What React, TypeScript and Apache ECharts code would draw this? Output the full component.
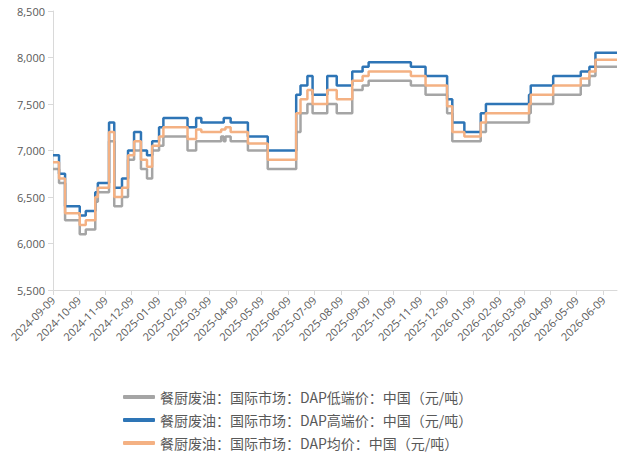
import React, { useEffect, useRef } from "react";
import * as echarts from "echarts";

const seriesNames = [
  "餐厨废油：国际市场：DAP低端价：中国（元/吨）",
  "餐厨废油：国际市场：DAP高端价：中国（元/吨）",
  "餐厨废油：国际市场：DAP均价：中国（元/吨）",
];

const dates = [
  "2024-09-09", "2024-09-16", "2024-09-23", "2024-10-10", "2024-10-17", "2024-10-28",
  "2024-10-31", "2024-11-13", "2024-11-19", "2024-11-28", "2024-12-05", "2024-12-12",
  "2024-12-20", "2024-12-27", "2025-01-02", "2025-01-10", "2025-01-15", "2025-02-12",
  "2025-02-22", "2025-02-28", "2025-03-23", "2025-03-26", "2025-03-28", "2025-04-03",
  "2025-04-23", "2025-05-16", "2025-06-18", "2025-06-23", "2025-07-01", "2025-07-07",
  "2025-07-24", "2025-08-04", "2025-08-22", "2025-09-03", "2025-09-10", "2025-10-29",
  "2025-11-15", "2025-12-10", "2025-12-16", "2025-12-30", "2026-01-18", "2026-01-24",
  "2026-03-15", "2026-03-17", "2026-04-12", "2026-05-14", "2026-05-24", "2026-05-31",
  "2026-06-18", "2026-06-25",
];

const lowValues = [
  6800, 6650, 6250, 6100, 6150, 6450,
  6550, 7100, 6400, 6500, 6900, 7000,
  6800, 6700, 7000, 7050, 7150, 7000,
  7100, 7100, 7150, 7100, 7150, 7100,
  7000, 6800, 7200, 7400, 7500, 7400,
  7500, 7400, 7650, 7700, 7750, 7700,
  7600, 7400, 7100, 7100, 7200, 7300,
  7400, 7500, 7600, 7700, 7800, 7900,
  7900, null,
];

const highValues = [
  6950, 6750, 6400, 6300, 6350, 6550,
  6650, 7300, 6600, 6700, 7000, 7200,
  7000, 6950, 7100, 7250, 7350, 7250,
  7350, 7300, 7300, 7350, 7350, 7300,
  7150, 7000, 7600, 7700, 7800, 7600,
  7800, 7700, 7850, 7900, 7950, 7900,
  7800, 7550, 7300, 7200, 7400, 7500,
  7600, 7700, 7800, 7850, 7900, 8050,
  8050, null,
];

const avgValues = [
  6875, 6700, 6325, 6200, 6250, 6500,
  6600, 7200, 6500, 6600, 6950, 7100,
  6900, 6825, 7050, 7150, 7250, 7125,
  7225, 7200, 7225, 7225, 7250, 7200,
  7075, 6900, 7400, 7550, 7650, 7500,
  7650, 7550, 7750, 7800, 7850, 7800,
  7700, 7475, 7200, 7150, 7300, 7400,
  7500, 7600, 7700, 7775, 7850, 7975,
  7975, 7975,
];

const xTickLabels = [
  "2024-09-09", "2024-10-09", "2024-11-09", "2024-12-09", "2025-01-09", "2025-02-09",
  "2025-03-09", "2025-04-09", "2025-05-09", "2025-06-09", "2025-07-09", "2025-08-09",
  "2025-09-09", "2025-10-09", "2025-11-09", "2025-12-09", "2026-01-09", "2026-02-09",
  "2026-03-09", "2026-04-09", "2026-05-09", "2026-06-09",
];

const xMin = "2024-09-09";
const xMax = "2026-06-25";
const colors = ["#A5A5A5", "#2E75B6", "#F4B183"];

const DAY = 86400000;
function toUtc(s: string) {
  const [y, m, d] = s.split("-").map(Number);
  return Date.UTC(y, m - 1, d);
}
const base = toUtc(xMin);
function toDay(s: string) {
  return Math.round((toUtc(s) - base) / DAY);
}
function pad(n: number) {
  return n < 10 ? "0" + n : "" + n;
}
function dayLabel(v: number) {
  const d = new Date(base + Math.round(v) * DAY);
  return d.getUTCFullYear() + "-" + pad(d.getUTCMonth() + 1) + "-" + pad(d.getUTCDate());
}

export default function App() {
  const ref = useRef<HTMLDivElement>(null);
  useEffect(() => {
    if (!ref.current) return;
    const chart = echarts.init(ref.current, null, { renderer: "svg" });
    const allValues = [lowValues, highValues, avgValues];
    const tickDays = xTickLabels.map(toDay);
    chart.setOption({
      animation: false,
      color: colors,
      textStyle: { fontFamily: "'Open Sans', 'Noto Sans CJK SC', sans-serif" },
      grid: { left: 53, right: 7, top: 11, bottom: 166, containLabel: false },
      legend: {
        orient: "vertical",
        left: 118,
        top: 385,
        itemWidth: 32,
        itemHeight: 4,
        itemGap: 9,
        icon: "roundRect",
        textStyle: {
          color: "#595959",
          fontSize: 14,
          fontFamily: "'Noto Sans CJK SC', sans-serif",
        },
        data: seriesNames,
      },
      xAxis: {
        type: "value",
        min: 0,
        max: toDay(xMax),
        splitLine: { show: false },
        axisLine: { show: true, lineStyle: { color: "#D9D9D9", width: 1 } },
        axisTick: {
          show: true,
          length: 5,
          lineStyle: { color: "#D9D9D9" },
          customValues: tickDays,
        },
        axisLabel: {
          customValues: tickDays,
          rotate: 45,
          color: "#595959",
          fontSize: 11,
          margin: 8,
          hideOverlap: false,
          formatter: (v: number) => dayLabel(v),
        },
      },
      yAxis: {
        type: "value",
        min: 5500,
        max: 8500,
        interval: 500,
        splitLine: { show: false },
        axisLine: { show: true, lineStyle: { color: "#D9D9D9", width: 1 } },
        axisTick: { show: true, length: 5, lineStyle: { color: "#D9D9D9" } },
        axisLabel: {
          color: "#595959",
          fontSize: 11,
          margin: 8,
          formatter: (v: number) => v.toLocaleString("en-US"),
        },
      },
      series: seriesNames.map((name, i) => ({
        name,
        type: "line",
        step: "end",
        showSymbol: false,
        symbol: "none",
        connectNulls: false,
        lineStyle: { width: 2.5, color: colors[i] },
        itemStyle: { color: colors[i] },
        data: dates.map((d, j) => [toDay(d), allValues[i][j]]),
      })),
    });
    return () => chart.dispose();
  }, []);
  return (
    <div
      ref={ref}
      style={{ position: "absolute", left: 0, top: 0, width: 624, height: 456, background: "#fff" }}
    />
  );
}
